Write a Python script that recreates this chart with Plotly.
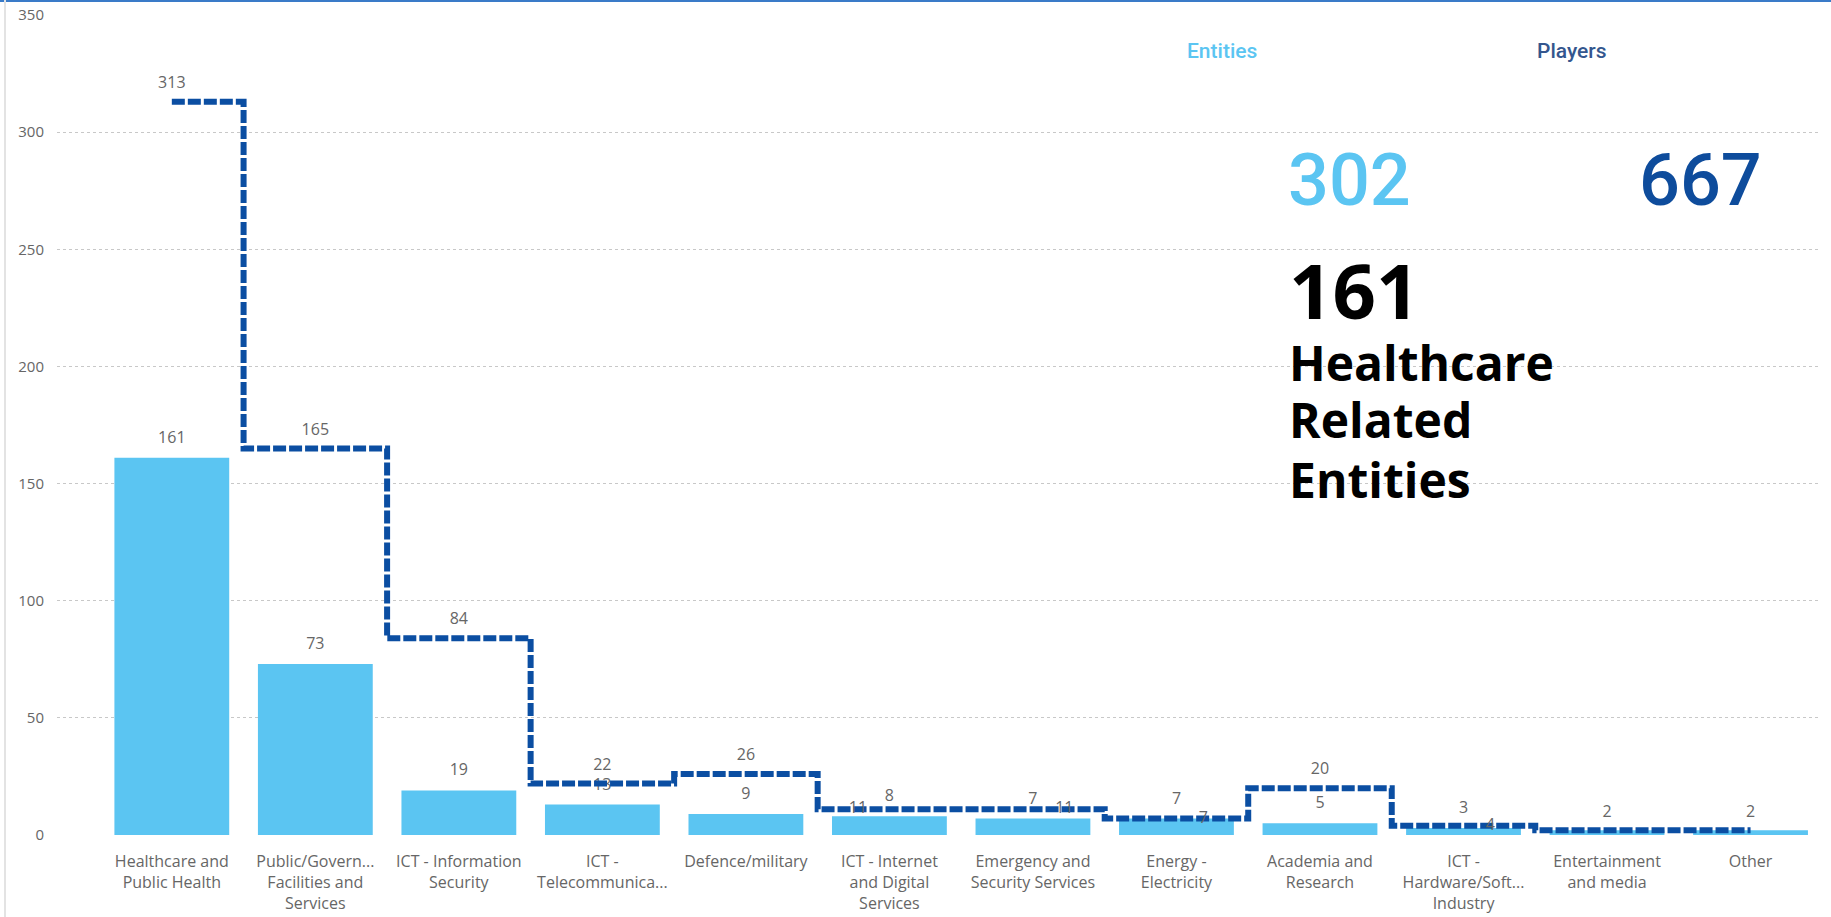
import plotly.graph_objects as go

# ---------------- data ----------------
categories = [
    "Healthcare and<br>Public Health",
    "Public/Govern...<br>Facilities and<br>Services",
    "ICT - Information<br>Security",
    "ICT -<br>Telecommunica...",
    "Defence/military",
    "ICT - Internet<br>and Digital<br>Services",
    "Emergency and<br>Security Services",
    "Energy -<br>Electricity",
    "Academia and<br>Research",
    "ICT -<br>Hardware/Soft...<br>Industry",
    "Entertainment<br>and media",
    "Other",
]
entities = [161, 73, 19, 13, 9, 8, 7, 7, 5, 3, 2, 2]
players = [313, 165, 84, 22, 26, 11, 11, 7, 20, 4, 2, 2]
total_entities = 302
total_players = 667
y_ticks = [0, 50, 100, 150, 200, 250, 300, 350]
headline_label = ["Healthcare", "Related", "Entities"]
card_labels = ["Entities", "Players"]

# ---------------- styles ----------------
LIGHT = "#5BC5F2"
DARK = "#0B4EA2"
GREY = "#666666"
FIG_W, FIG_H = 1831, 917
PL, PR, PT, PB = 57, 1818, 15, 835

hidden_entity_labels = {10, 11}
player_label_pos = {5: "middle left", 6: "middle right", 7: "middle right", 9: "middle right"}

x = list(range(len(categories)))

def px(v):
    return (v - PL) / (PR - PL)

def py(v):
    return (PB - v) / (PB - PT)

ent_text = ["" if i in hidden_entity_labels else str(v) for i, v in enumerate(entities)]
ply_text = [str(v) for v in players]
ply_pos = [player_label_pos.get(i, "top center") for i in x]
ply_size = [34 if i in player_label_pos else 14 for i in x]

fig = go.Figure()

fig.add_trace(go.Bar(
    x=x, y=entities, width=0.8, marker=dict(color=LIGHT, line=dict(width=0)),
    hoverinfo="skip",
))

fig.add_trace(go.Scatter(
    x=x, y=entities, mode="markers+text", text=ent_text, textposition="top center",
    marker=dict(size=16, opacity=0), textfont=dict(family="Open Sans", size=16, color=GREY),
    hoverinfo="skip", cliponaxis=False,
))

fig.add_trace(go.Scatter(
    x=x, y=players, mode="lines", line=dict(shape="hvh", color=DARK, width=6, dash="13px,3px"),
    hoverinfo="skip", cliponaxis=False,
))

fig.add_trace(go.Scatter(
    x=x, y=players, mode="markers+text", text=ply_text, textposition=ply_pos,
    marker=dict(size=ply_size, opacity=0), textfont=dict(family="Open Sans", size=16, color=GREY),
    hoverinfo="skip", cliponaxis=False,
))

annotations = [
    dict(text=card_labels[0], x=px(1222), y=py(51), font=dict(family="Roboto", size=21, color=LIGHT, weight=500)),
    dict(text=card_labels[1], x=px(1572), y=py(51), font=dict(family="Roboto", size=21, color="#34568E", weight=500)),
    dict(text=str(total_entities), x=px(1349), y=py(181), font=dict(family="Roboto", size=72, color=LIGHT, weight=500)),
    dict(text=str(total_players), x=px(1700), y=py(181), font=dict(family="Roboto", size=72, color="#0E4C9C", weight=500)),
    dict(text=str(entities[0]), x=px(1287), y=py(290), xanchor="left",
         font=dict(family="Open Sans", size=76, color="#000000", weight="bold")),
]
for t, yy in zip(headline_label, [362, 419, 479]):
    annotations.append(dict(text=t, x=px(1287), y=py(yy), xanchor="left",
                            font=dict(family="Open Sans", size=48, color="#000000", weight="bold")))
for a in annotations:
    a.update(xref="paper", yref="paper", showarrow=False)
    a.setdefault("xanchor", "center")
    a.setdefault("yanchor", "middle")

shapes = [
    dict(type="line", xref="paper", yref="paper", x0=px(0), x1=px(FIG_W), y0=py(1), y1=py(1),
         line=dict(color="#3A7BC8", width=2)),
    dict(type="line", xref="paper", yref="paper", x0=px(5), x1=px(5), y0=py(0), y1=py(FIG_H),
         line=dict(color="#E3E3E3", width=2)),
]

fig.update_layout(
    width=FIG_W, height=FIG_H,
    margin=dict(l=PL, r=FIG_W - PR, t=PT, b=FIG_H - PB, pad=0, autoexpand=False),
    paper_bgcolor="white", plot_bgcolor="white",
    showlegend=False, bargap=0.2,
    annotations=annotations, shapes=shapes,
    font=dict(family="Open Sans", color=GREY),
)
fig.update_xaxes(
    range=[-0.8, 11.47], tickmode="array", tickvals=x, ticktext=categories,
    showgrid=False, zeroline=False, showline=False, ticks="", automargin=False,
    tickfont=dict(family="Open Sans", size=16, color=GREY), ticklabelstandoff=15,
    tickangle=0,
)
fig.update_yaxes(
    range=[0, 350], tickmode="array", tickvals=y_ticks, ticktext=[str(v) for v in y_ticks],
    showgrid=True, gridcolor="#C8C8C8", griddash="dot", gridwidth=1,
    zeroline=False, showline=False, ticks="", automargin=False,
    tickfont=dict(family="Open Sans", size=15, color=GREY), ticklabelstandoff=12,
)

fig.write_html("out.html")
